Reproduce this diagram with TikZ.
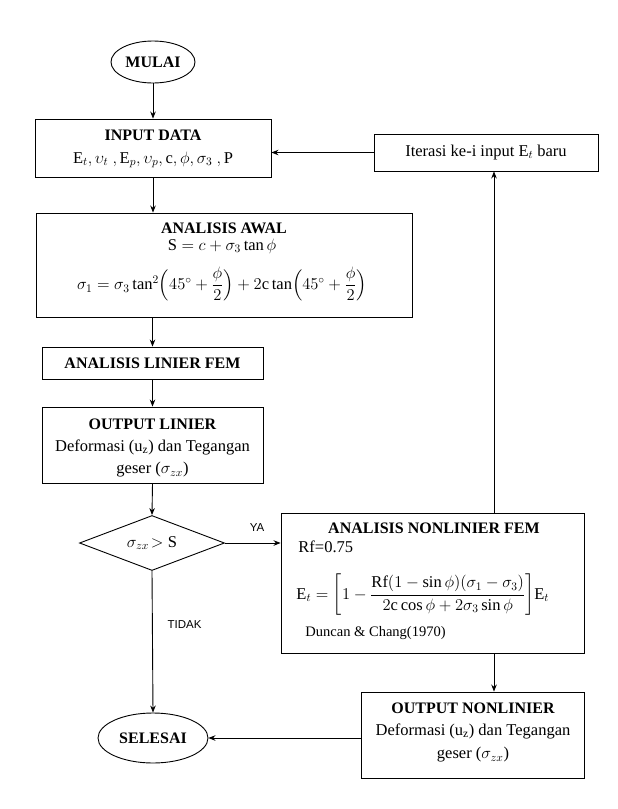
\RequirePackage{fix-cm}
\documentclass[tikz,border=0pt]{standalone}
\usepackage{amsmath}
\usepackage{fontspec}
\setmainfont{Liberation Serif}
\newfontfamily\arialfont{Liberation Sans}
\usetikzlibrary{shapes.geometric,arrows.meta,calc}
\begin{document}
\begin{tikzpicture}[x=1pt,y=-1pt,
  line width=0.9pt,
  arr/.style={-{Stealth[length=7pt,width=5.5pt]}},
  boxs/.style={draw, rectangle, inner sep=0pt},
  ttl/.style={font=\fontsize{16}{19}\selectfont\bfseries, inner sep=0pt},
  txt/.style={font=\fontsize{16.5}{19}\selectfont, inner sep=0pt},
  small/.style={font=\fontsize{14.5}{17}\selectfont, inner sep=0pt},
  lbl/.style={font=\arialfont\fontsize{11.5}{13}\selectfont, inner sep=0pt},
]
\useasboundingbox (0,0) rectangle (618,809);

% start
\node[draw, ellipse, minimum width=84pt, minimum height=42pt, ttl] (mulai) at (153,62) {MULAI};

% input
\node[boxs, minimum width=236pt, minimum height=58pt] (input) at (153,148) {};
\node[ttl] (inputT) at (153,135) {INPUT DATA};
\node[txt] (inputV) at (153,160) {$\mathrm{E}_t, \upsilon_t\ , \mathrm{E}_p, \upsilon_p, \mathrm{c}, \phi, \sigma_3\ , \mathrm{P}$};

% iteration
\node[boxs, minimum width=224pt, minimum height=37pt, txt] (iter) at (486,152.5) {Iterasi ke-i input $\mathrm{E}_t$ baru};

% analisis awal
\node[boxs, minimum width=376pt, minimum height=104pt] (awal) at (224,265) {};
\node[ttl] (awalT) at (224,228) {ANALISIS AWAL};
\node[txt] (awalS) at (222,246) {$\mathrm{S} = c + \sigma_3\tan\phi$};
\node[txt] (awalF) at (222,284) {$\sigma_1 = \sigma_3 \tan^2\Bigl(45^\circ + \dfrac{\phi}{2}\Bigr) + 2\mathrm{c}\tan\Bigl(45^\circ+\dfrac{\phi}{2}\Bigr)$};

% analisis linier
\node[boxs, minimum width=221pt, minimum height=32pt, ttl] (linier) at (152.5,363) {ANALISIS LINIER FEM};

% output linier
\node[boxs, minimum width=221pt, minimum height=76pt] (outlin) at (152.5,445) {};
\node[ttl] (outlinT) at (152.5,424) {OUTPUT LINIER};
\node[txt] (outlinA) at (152.5,447) {Deformasi (u\textsubscript{z}) dan Tegangan};
\node[txt] (outlinB) at (152.5,470) {geser ($\sigma_{zx}$)};

% decision
\node[draw, diamond, minimum width=145pt, minimum height=55pt, inner sep=0pt, aspect=2.6] (dec) at (152,543) {};
\node[txt] (decT) at (152,543) {$\sigma_{zx}\!>\mathrm{S}$};

% analisis nonlinier
\node[boxs, minimum width=303pt, minimum height=140pt] (nl) at (432.5,583) {};
\node[ttl] (nlT) at (434,528) {ANALISIS NONLINIER FEM};
\node[txt, anchor=west] (nlR) at (298,547) {Rf=0.75};
\node[txt, anchor=west] (nlF) at (296,595) {$\mathrm{E}_t = \biggl[1 - \dfrac{\mathrm{Rf}(1-\sin\phi)(\sigma_1-\sigma_3)}{2\mathrm{c}\cos\phi + 2\sigma_3\sin\phi}\biggr]\mathrm{E}_t$};
\node[small, anchor=west] (nlD) at (305,633) {Duncan \& Chang(1970)};

% output nonlinier
\node[boxs, minimum width=223pt, minimum height=86pt] (outnl) at (472.5,735) {};
\node[ttl] (outnlT) at (473,708) {OUTPUT NONLINIER};
\node[txt] (outnlA) at (473,731) {Deformasi (u\textsubscript{z}) dan Tegangan};
\node[txt] (outnlB) at (473,755) {geser ($\sigma_{zx}$)};

% end
\node[draw, ellipse, minimum width=110pt, minimum height=50pt, ttl] (selesai) at (153,738) {SELESAI};

% labels
\node[lbl] (ya) at (257,528) {YA};
\node[lbl] (tidak) at (184.5,625) {TIDAK};

% connectors
\coordinate (xl) at (494,0);
\draw[arr] (mulai.south) -- (mulai.south |- input.north);
\draw[arr] (input.south) -- (input.south |- awal.north);
\draw[arr] (awal.south -| linier.north) -- (linier.north);
\draw[arr] (linier.south) -- (outlin.north);
\draw[arr] (outlin.south) -- (dec.north);
\draw[arr] (dec.east) -- (dec.east -| nl.west);
\draw[arr] (dec.south) -- (selesai.north);
\draw[arr] (iter.west) -- (iter.west -| input.east);
\draw[arr] (nl.north -| xl) -- (iter.south -| xl);
\draw[arr] (nl.south -| xl) -- (outnl.north -| xl);
\draw[arr] (selesai.east -| outnl.west) -- (selesai.east);
\end{tikzpicture}
\end{document}
